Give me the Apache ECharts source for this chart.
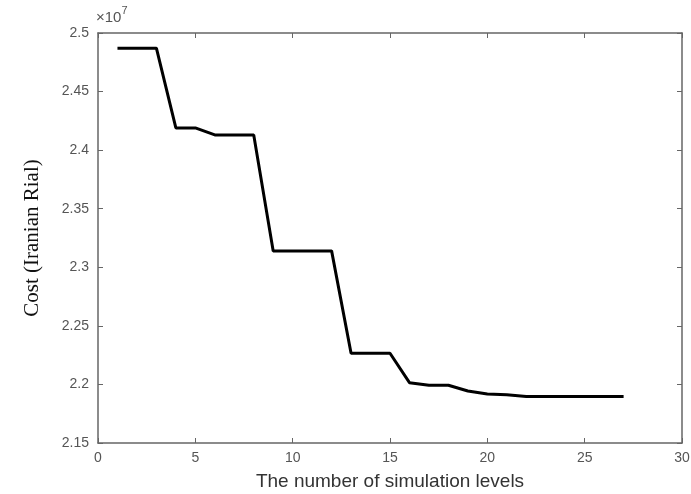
<!DOCTYPE html>
<html>
<head>
<meta charset="utf-8">
<script src="https://cdn.jsdelivr.net/npm/echarts@6/dist/echarts.min.js"></script>
<style>
  html, body { margin: 0; padding: 0; background: #fff; }
  #chart { width: 691px; height: 494px; }
</style>
</head>
<body>
<div id="chart"></div>
<script>
// simulation level on x, cost (x 10^7 Iranian Rial) on y
const levels = [1, 2, 3, 4, 5, 6, 7, 8, 9, 10, 11, 12, 13, 14, 15, 16, 17, 18, 19, 20, 21, 22, 23, 24, 25, 26, 27];
const cost = [2.487, 2.487, 2.487, 2.419, 2.419, 2.413, 2.413, 2.413, 2.314, 2.314, 2.314, 2.314,
  2.2266, 2.2266, 2.2266, 2.2015, 2.1993, 2.1993, 2.1944, 2.1918, 2.1912, 2.1897, 2.1897, 2.1897,
  2.1897, 2.1897, 2.1897];
const xTicks = [0, 5, 10, 15, 20, 25, 30];
const yTicks = [2.15, 2.2, 2.25, 2.3, 2.35, 2.4, 2.45, 2.5];

const axisGray = '#666666';
const labelGray = '#555555';

let chart = echarts.init(document.getElementById('chart'));
chart.setOption({
    backgroundColor: '#ffffff',
    animation: false,
    grid: {
        left: 98,
        right: 9,
        top: 33,
        bottom: 51,
        containLabel: false,
        outerBoundsMode: 'none'
    },
    graphic: [{
        type: 'text',
        left: 96,
        top: 5,
        style: {
            text: '{a|×10}{b|7}',
            rich: {
                a: { fontFamily: 'Liberation Sans', fontSize: 15, fill: labelGray, verticalAlign: 'bottom' },
                b: { fontFamily: 'Liberation Sans', fontSize: 11, fill: labelGray, verticalAlign: 'top', padding: [0, 0, 9, 0] }
            }
        }
    }],
    xAxis: [{
        type: 'value',
        min: xTicks[0],
        max: xTicks[xTicks.length - 1],
        interval: 5,
        name: 'The number of simulation levels',
        nameLocation: 'middle',
        nameGap: 29,
        nameTextStyle: { fontFamily: 'Liberation Sans', fontSize: 19, color: '#333333' },
        axisLine: { onZero: false, lineStyle: { color: axisGray, width: 1.5 } },
        axisTick: { inside: true, length: 5, lineStyle: { color: axisGray } },
        axisLabel: { margin: 8, fontFamily: 'Liberation Sans', fontSize: 14, color: labelGray },
        splitLine: { show: false }
    }, {
        type: 'value',
        position: 'top',
        min: xTicks[0],
        max: xTicks[xTicks.length - 1],
        interval: 5,
        axisLine: { onZero: false, lineStyle: { color: axisGray, width: 1.5 } },
        axisTick: { inside: true, length: 5, lineStyle: { color: axisGray } },
        axisLabel: { show: false },
        splitLine: { show: false }
    }],
    yAxis: [{
        type: 'value',
        min: yTicks[0],
        max: yTicks[yTicks.length - 1],
        interval: 0.05,
        name: 'Cost (Iranian Rial)',
        nameLocation: 'middle',
        nameGap: 55,
        nameTextStyle: { fontFamily: 'Liberation Serif', fontSize: 21, color: '#111111' },
        axisLine: { onZero: false, lineStyle: { color: axisGray, width: 1.5 } },
        axisTick: { inside: true, length: 5, lineStyle: { color: axisGray } },
        axisLabel: {
            margin: 9,
            fontFamily: 'Liberation Sans',
            fontSize: 14,
            color: labelGray,
            formatter: v => String(+v.toFixed(2))
        },
        splitLine: { show: false }
    }, {
        type: 'value',
        position: 'right',
        min: yTicks[0],
        max: yTicks[yTicks.length - 1],
        interval: 0.05,
        axisLine: { onZero: false, lineStyle: { color: axisGray, width: 1.5 } },
        axisTick: { inside: true, length: 5, lineStyle: { color: axisGray } },
        axisLabel: { show: false },
        splitLine: { show: false }
    }],
    series: [{
        type: 'line',
        data: levels.map((x, i) => [x, cost[i]]),
        showSymbol: false,
        symbol: 'none',
        lineStyle: { color: '#000000', width: 3 },
        xAxisIndex: 0,
        yAxisIndex: 0
    }]
});
</script>
</body>
</html>
